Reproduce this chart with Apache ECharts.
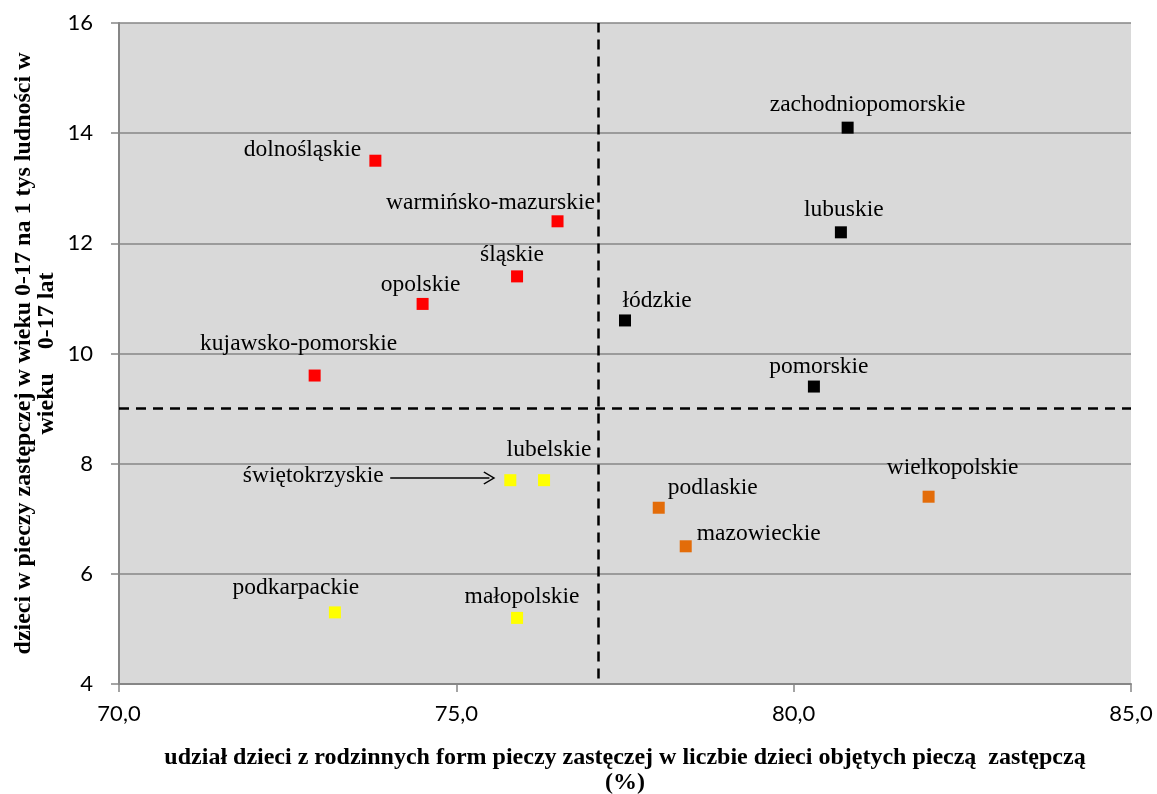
<!DOCTYPE html>
<html>
<head>
    <meta charset="UTF-8" />
    <title>piecza zastępcza - województwa</title>
    <script src="https://cdn.jsdelivr.net/npm/echarts@6/dist/echarts.min.js"></script>
    <style>
        html, body { margin: 0; padding: 0; background: #fff; }
        #chart { width: 1157px; height: 794px; }
    </style>
</head>
<body>
<div id="chart"></div>
<script type="text/javascript">
    // województwa i ich wartości
    var regions = ['dolnośląskie', 'warmińsko-mazurskie', 'śląskie', 'opolskie', 'kujawsko-pomorskie',
                   'zachodniopomorskie', 'lubuskie', 'łódzkie', 'pomorskie',
                   'wielkopolskie', 'podlaskie', 'mazowieckie',
                   'lubelskie', 'świętokrzyskie', 'podkarpackie', 'małopolskie'];
    var shareFamily = [73.8, 76.5, 75.9, 74.5, 72.9,
                       80.8, 80.7, 77.5, 80.3,
                       82.0, 78.0, 78.4,
                       76.3, 75.8, 73.2, 75.9];
    var childrenPer1000 = [13.5, 12.4, 11.4, 10.9, 9.6,
                           14.1, 12.2, 10.6, 9.4,
                           7.4, 7.2, 6.5,
                           7.7, 7.7, 5.3, 5.2];
    // grupa (kolor) każdego województwa
    var groupOf = [0, 0, 0, 0, 0,
                   1, 1, 1, 1,
                   2, 2, 2,
                   3, 3, 3, 3];
    // linie podziału (średnie)
    var splitX = 77.1;
    var splitY = 9.0;
    var xTicks = [70, 75, 80, 85];
    var yTicks = [4, 6, 8, 10, 12, 14, 16];

    // wygląd
    var groupColors = ['#FF0000', '#000000', '#E36C09', '#FFFF00'];
    // przesunięcie podpisu względem punktu (px)
    var labelShift = {
        'dolnośląskie': [-73, -11],
        'warmińsko-mazurskie': [-67, -18],
        'śląskie': [-5, -22],
        'opolskie': [-2, -19],
        'kujawsko-pomorskie': [-16, -32],
        'zachodniopomorskie': [20, -23],
        'lubuskie': [3, -22],
        'łódzkie': [32, -20],
        'pomorskie': [5, -20],
        'wielkopolskie': [24, -29],
        'podlaskie': [54, -20],
        'mazowieckie': [73, -12],
        'lubelskie': [5, -30],
        'świętokrzyskie': [-197, -4],
        'podkarpackie': [-39, -25],
        'małopolskie': [5, -21]
    };

    var serifFont = '"Liberation Serif", "Times New Roman", serif';
    var dashStyle = { color: '#000', width: 2.5, type: [10, 7] };

    var chart = echarts.init(document.getElementById('chart'));

    var series = [];
    for (var g = 0; g < groupColors.length; g++) {
        var pts = [];
        for (var i = 0; i < regions.length; i++) {
            if (groupOf[i] !== g) continue;
            pts.push({
                name: regions[i],
                value: [shareFamily[i], childrenPer1000[i]],
                label: { offset: labelShift[regions[i]] }
            });
        }
        series.push({
            type: 'scatter',
            symbol: 'rect',
            symbolSize: 12,
            clip: false,
            itemStyle: { color: groupColors[g], opacity: 1 },
            label: {
                show: true,
                position: 'inside',
                formatter: '{b}',
                color: '#000',
                fontFamily: serifFont,
                fontSize: 23.5
            },
            emphasis: { disabled: true },
            data: pts
        });
    }

    // linie przerywane podziału
    series[0].markLine = {
        silent: true,
        symbol: 'none',
        animation: false,
        label: { show: false },
        lineStyle: dashStyle,
        data: [
            [{ coord: [splitX, 4.1] }, { coord: [splitX, 16] }],
            [{ coord: [70, splitY] }, { coord: [85, splitY] }]
        ]
    };

    // strzałka do świętokrzyskiego
    var sw = regions.indexOf('świętokrzyskie');
    series[3].markLine = {
        silent: true,
        animation: false,
        label: { show: false },
        symbol: ['none', 'path://M10,0 L20,18 L18.5,19.5 L10,4.5 L1.5,19.5 L0,18 Z'],
        symbolSize: [13, 12],
        lineStyle: { color: '#000', width: 1.5, type: 'solid' },
        data: [
            [{ coord: [shareFamily[sw] - 1.78, childrenPer1000[sw] + 0.04] },
             { coord: [shareFamily[sw] - 0.31, childrenPer1000[sw] + 0.04] }]
        ]
    };

    var option = {
        animation: false,
        backgroundColor: '#fff',
        grid: {
            left: 119, right: 26, top: 23, bottom: 110,
            show: true, backgroundColor: '#D9D9D9', borderWidth: 0,
            containLabel: false, outerBoundsMode: 'none'
        },
        xAxis: {
            type: 'value',
            min: xTicks[0], max: xTicks[xTicks.length - 1], interval: 5,
            name: 'udział dzieci z rodzinnych form pieczy zastęczej w liczbie dzieci objętych pieczą  zastępczą\n(%)',
            nameLocation: 'middle',
            nameGap: 61,
            nameMoveOverlap: false,
            nameTextStyle: {
                fontFamily: serifFont, fontWeight: 'bold', fontSize: 24,
                color: '#000', lineHeight: 25, verticalAlign: 'top'
            },
            axisLine: { show: true, lineStyle: { color: '#868686', width: 2 } },
            axisTick: { show: true, length: 8, lineStyle: { color: '#868686', width: 1.5 } },
            splitLine: { show: false },
            axisLabel: {
                fontFamily: 'Lato, Carlito, sans-serif', fontSize: 22, color: '#000', margin: 19,
                formatter: function (v) { return v.toFixed(1).replace('.', ','); }
            }
        },
        yAxis: {
            type: 'value',
            min: yTicks[0], max: yTicks[yTicks.length - 1], interval: 2,
            name: 'dzieci w pieczy zastępczej w wieku 0-17 na 1 tys ludności w\nwieku    0-17 lat',
            nameLocation: 'middle',
            nameGap: 61,
            nameMoveOverlap: false,
            nameTextStyle: {
                fontFamily: serifFont, fontWeight: 'bold', fontSize: 24,
                color: '#000', lineHeight: 23
            },
            axisLine: { show: true, lineStyle: { color: '#868686', width: 2 } },
            axisTick: { show: true, length: 8, lineStyle: { color: '#868686', width: 1.5 } },
            splitLine: { show: true, lineStyle: { color: '#868686', width: 1.5 } },
            axisLabel: {
                fontFamily: 'Lato, Carlito, sans-serif', fontSize: 22, color: '#000', margin: 26
            }
        },
        series: series
    };

    chart.setOption(option);
</script>
</body>
</html>
